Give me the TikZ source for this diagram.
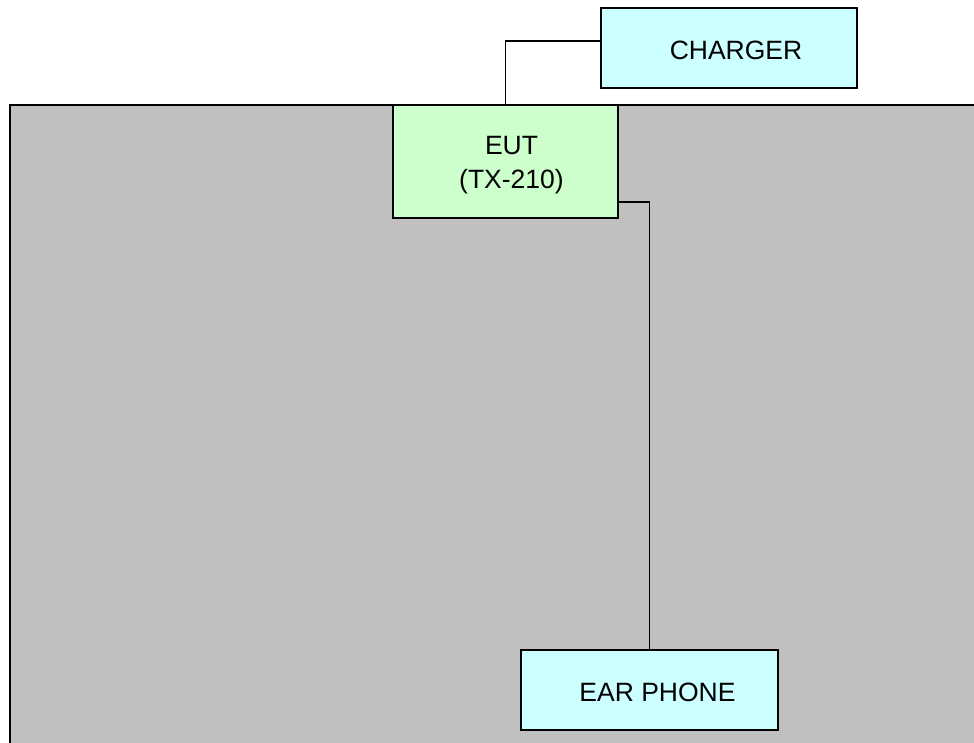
\documentclass[tikz,border=0pt]{standalone}
\usepackage{fontspec}
\setmainfont{Liberation Sans}
\definecolor{roomgray}{HTML}{C0C0C0}
\definecolor{boxcyan}{HTML}{CCFFFF}
\definecolor{boxgreen}{HTML}{CCFFCC}
\begin{document}
\begin{tikzpicture}[x=1pt,y=-1pt,
  unitbox/.style={draw=black,line width=2pt,inner sep=0pt},
  unittext/.style={font=\fontsize{26.5}{34}\selectfont,align=center},
  wire/.style={draw=black,line width=1.8pt}]
\useasboundingbox (0,0) rectangle (974,742);
% shielded room
\path[fill=roomgray,draw=black,line width=2.5pt] (10,105) rectangle (990,760);
% units
\node[unitbox,fill=boxgreen,minimum width=225pt,minimum height=113pt,
      label={[unittext,xshift=6pt,yshift=-4pt]center:EUT\\(TX-210)}]
      (eut) at (505.5,161.5) {};
\node[unitbox,fill=boxcyan,minimum width=256pt,minimum height=80pt,
      label={[unittext,xshift=7pt,yshift=-2pt]center:CHARGER}]
      (charger) at (729,48) {};
\node[unitbox,fill=boxcyan,minimum width=257pt,minimum height=80pt,
      label={[unittext,xshift=8pt,yshift=-2pt]center:EAR PHONE}]
      (ear) at (649.5,690) {};
% cables
\draw[wire] (eut.north) |- ([yshift=7pt]charger.west);
\draw[wire] ([yshift=-40.5pt]eut.east) -| (ear.north);
\end{tikzpicture}
\end{document}
